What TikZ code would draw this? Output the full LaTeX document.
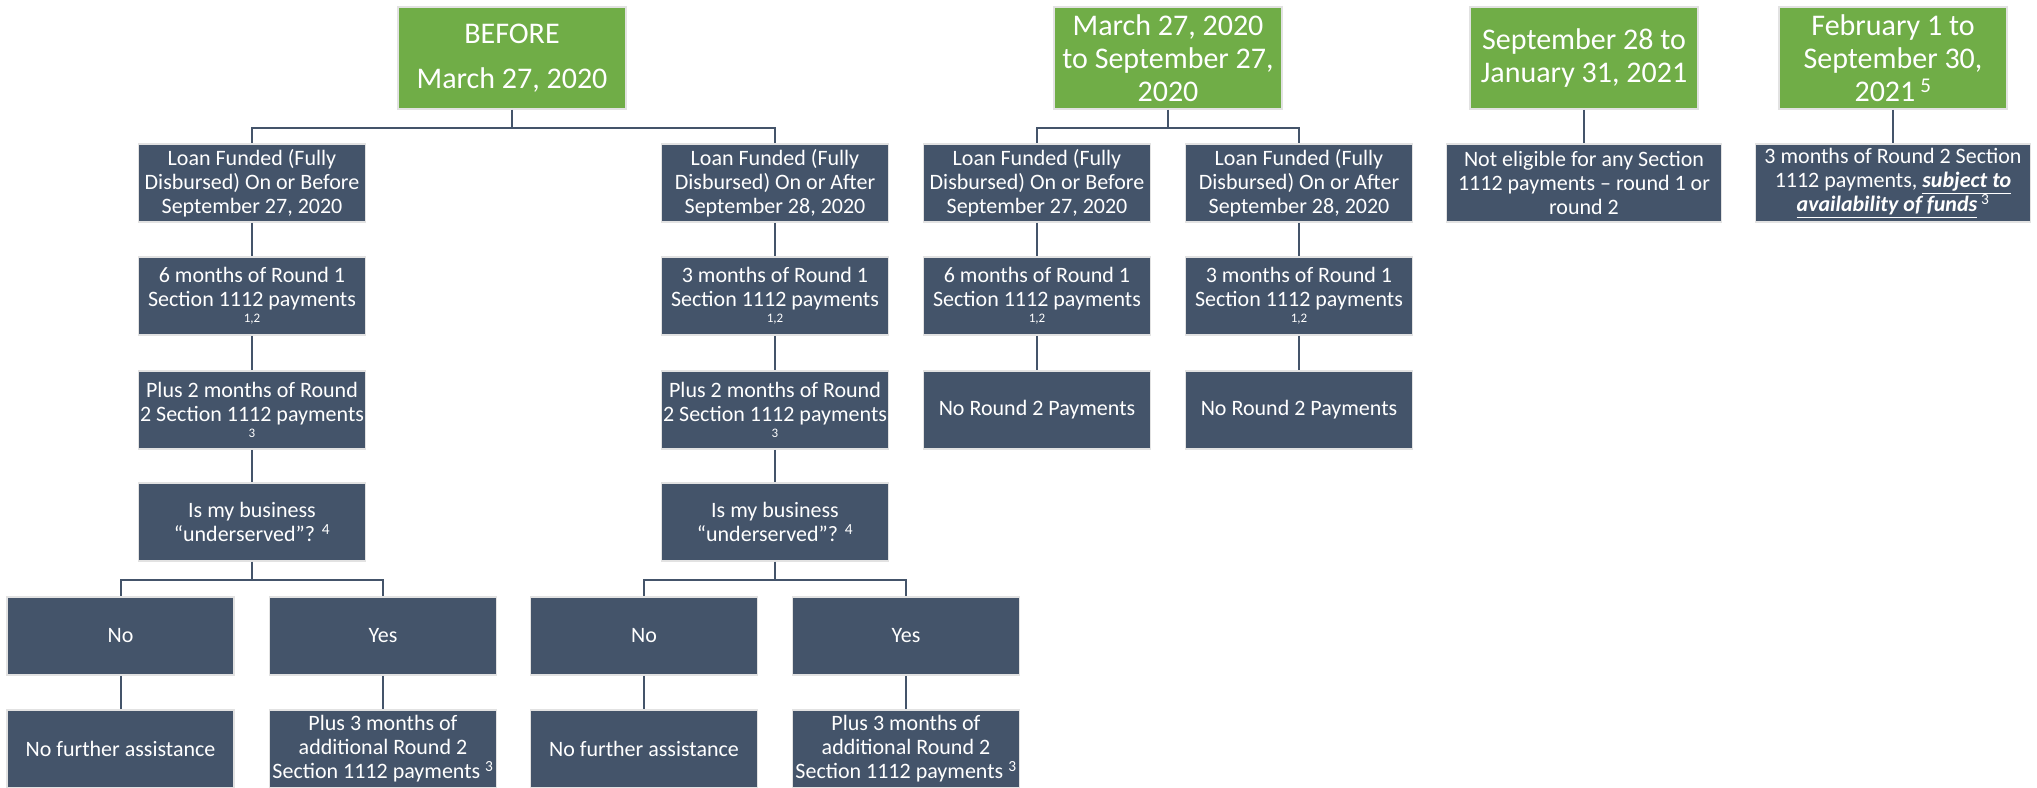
\documentclass[tikz,border=0pt]{standalone}
\usepackage{fontspec}
\setmainfont{Carlito}
\definecolor{hgreen}{HTML}{70AD47}
\definecolor{slate}{HTML}{44546A}
\definecolor{rim}{HTML}{E2E2E2}
\newcommand\smallnote[1]{{\fontsize{13}{13}\selectfont #1}}
\begin{document}
\begin{tikzpicture}[x=1pt,y=-1pt,
  box/.style={draw=rim, line width=1.6pt, fill=slate, text=white, minimum width=227pt, minimum height=78pt, inner sep=0pt, align=center, font=\fontsize{22}{24}\selectfont},
  head/.style={box, fill=hgreen, minimum width=228pt, minimum height=102pt, font=\fontsize{30}{33}\selectfont},
  widebox/.style={box, minimum width=275pt},
  link/.style={draw=slate, line width=2pt}]
\useasboundingbox (0,0) rectangle (2037,787);
\fill[white] (0,0) rectangle (2037,787);

% headers
\node[head] (H1) at (512,58) {BEFORE\\[12pt]March 27, 2020};
\node[head] (H2) at (1168,58) {March 27, 2020\\to September 27,\\2020};
\node[head] (H3) at (1584,58) {September 28 to\\January 31, 2021};
\node[head] (H4) at (1893,58) {February 1 to\\September 30,\\2021\,\textsuperscript{5}};

% column A
\node[box] (A1) at (252,183) {Loan Funded (Fully\\Disbursed) On or Before\\September 27, 2020};
\node[box] (A2) at (252,296) {6 months of Round 1\\Section 1112 payments\\[-8pt]\smallnote{1,2}};
\node[box] (A3) at (252,410) {Plus 2 months of Round\\2 Section 1112 payments\\[-8pt]\smallnote{3}};
\node[box] (A4) at (252,522) {Is my business\\“underserved”? \textsuperscript{4}};
\node[box] (AN) at (120.5,636) {No};
\node[box] (AY) at (383,636) {Yes};
\node[box] (AN2) at (120.5,749) {No further assistance};
\node[box] (AY2) at (383,749) {Plus 3 months of\\additional Round 2\\Section 1112 payments \textsuperscript{3}};

% column B
\node[box] (B1) at (775,183) {Loan Funded (Fully\\Disbursed) On or After\\September 28, 2020};
\node[box] (B2) at (775,296) {3 months of Round 1\\Section 1112 payments\\[-8pt]\smallnote{1,2}};
\node[box] (B3) at (775,410) {Plus 2 months of Round\\2 Section 1112 payments\\[-8pt]\smallnote{3}};
\node[box] (B4) at (775,522) {Is my business\\“underserved”? \textsuperscript{4}};
\node[box] (BN) at (644,636) {No};
\node[box] (BY) at (906,636) {Yes};
\node[box] (BN2) at (644,749) {No further assistance};
\node[box] (BY2) at (906,749) {Plus 3 months of\\additional Round 2\\Section 1112 payments \textsuperscript{3}};

% column C and D
\node[box] (C1) at (1037,183) {Loan Funded (Fully\\Disbursed) On or Before\\September 27, 2020};
\node[box] (C2) at (1037,296) {6 months of Round 1\\Section 1112 payments\\[-8pt]\smallnote{1,2}};
\node[box] (C3) at (1037,410) {No Round 2 Payments};
\node[box] (D1) at (1299,183) {Loan Funded (Fully\\Disbursed) On or After\\September 28, 2020};
\node[box] (D2) at (1299,296) {3 months of Round 1\\Section 1112 payments\\[-8pt]\smallnote{1,2}};
\node[box] (D3) at (1299,410) {No Round 2 Payments};

% columns E and F
\node[widebox] (E1) at (1584,183) {Not eligible for any Section\\1112 payments – round 1 or\\round 2};
\node[widebox] (F1) at (1893,183) {3 months of Round 2 Section\\1112 payments, \underline{\textbf{\textit{subject to}}}\\\underline{\textbf{\textit{availability of funds}}}\,\textsuperscript{3}};

% connectors
\draw[link] (H1.south) -- ++(0,18) -| (A1.north);
\draw[link] (H1.south) -- ++(0,18) -| (B1.north);
\draw[link] (H2.south) -- ++(0,18) -| (C1.north);
\draw[link] (H2.south) -- ++(0,18) -| (D1.north);
\draw[link] (H3.south) -- (E1.north);
\draw[link] (H4.south) -- (F1.north);
\foreach \c in {A,B}{
  \draw[link] (\c1.south) -- (\c2.north);
  \draw[link] (\c2.south) -- (\c3.north);
  \draw[link] (\c3.south) -- (\c4.north);
  \draw[link] (\c4.south) -- ++(0,18) -| (\c N.north);
  \draw[link] (\c4.south) -- ++(0,18) -| (\c Y.north);
  \draw[link] (\c N.south) -- (\c N2.north);
  \draw[link] (\c Y.south) -- (\c Y2.north);
}
\foreach \c in {C,D}{
  \draw[link] (\c1.south) -- (\c2.north);
  \draw[link] (\c2.south) -- (\c3.north);
}
\end{tikzpicture}
\end{document}
